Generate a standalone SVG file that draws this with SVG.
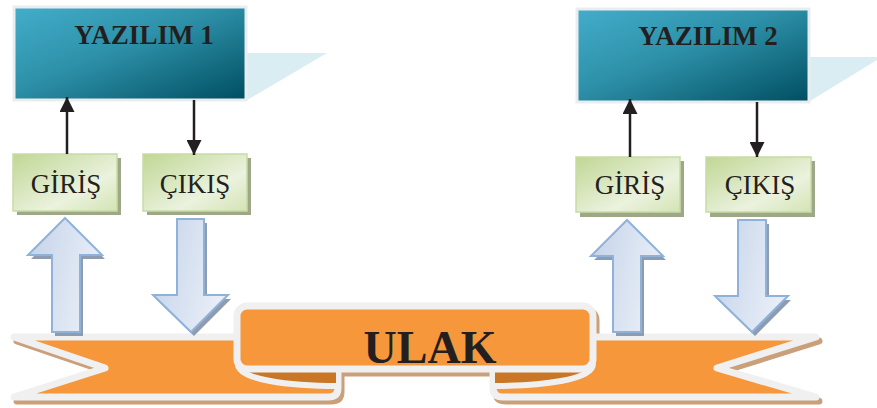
<svg xmlns="http://www.w3.org/2000/svg" width="877" height="408" viewBox="0 0 877 408">
<defs>
<linearGradient id="gBlue" x1="0" y1="0" x2="1" y2="1">
<stop offset="0" stop-color="#43adcb"/>
<stop offset="0.45" stop-color="#2d90a8"/>
<stop offset="1" stop-color="#004e61"/>
</linearGradient>
<linearGradient id="gGreen" x1="0" y1="0" x2="1" y2="1">
<stop offset="0" stop-color="#c0d794"/>
<stop offset="0.65" stop-color="#ebf2de"/>
<stop offset="1" stop-color="#d3e4b4"/>
</linearGradient>
<linearGradient id="gArrow" x1="0" y1="0" x2="1" y2="0.3">
<stop offset="0" stop-color="#c3d2e8"/>
<stop offset="1" stop-color="#e8eef7"/>
</linearGradient>
<marker id="ah" viewBox="0 0 15 15" refX="15" refY="7.5" markerWidth="15" markerHeight="15" markerUnits="userSpaceOnUse" orient="auto">
<path d="M0,0 L15,7.5 L0,15 Z" fill="#231f20"/>
</marker>
<style>
.sw{fill:#d9edf3}
.bb{fill:url(#gBlue);stroke:#e9edef;stroke-width:3}
.gb{fill:url(#gGreen);stroke:#c7dba4;stroke-width:1.5}
.gs{fill:#9ea889}
.ar{fill:url(#gArrow);stroke:#8fb2da;stroke-width:2;stroke-linejoin:miter}
.as{fill:#8e9cb2}
.t1{font-family:"Liberation Serif","Times New Roman",serif;font-weight:bold;font-size:27px;fill:#231f20;text-anchor:middle}
.t2{font-family:"Liberation Serif","Times New Roman",serif;font-size:27px;fill:#231f20;text-anchor:middle}
.t3{font-family:"Liberation Serif","Times New Roman",serif;font-weight:bold;font-size:46px;fill:#231f20;text-anchor:middle}
.rb{fill:#f5973a;stroke:#f0f0f0;stroke-width:7;stroke-linejoin:round}
.rs{fill:#c9a07a;stroke:#c9a07a;stroke-width:7;stroke-linejoin:round}
.fd{fill:#c97626}
.fc{fill:none;stroke:#f0f0f0;stroke-width:6}
.ln{stroke:#231f20;stroke-width:2.5;fill:none}
</style>
</defs>

<g id="yazilim1">
<polygon class="sw" points="245,53 327,53 247,100"/>
<rect class="bb" x="14" y="7" width="232" height="93"/>
<text class="t1" x="144" y="44">YAZILIM 1</text>
</g>
<g id="yazilim2">
<polygon class="sw" points="808,57 877,57 877,60 810,101"/>
<rect class="bb" x="577" y="9" width="232" height="93"/>
<text class="t1" x="708" y="45">YAZILIM 2</text>
</g>

<g id="giris1">
<rect class="gs" x="17" y="158" width="104" height="57"/>
<rect class="gb" x="13" y="154" width="104" height="57"/>
<text class="t2" x="66" y="193">GİRİŞ</text>
</g>
<g id="cikis1">
<rect class="gs" x="147" y="158" width="104" height="57"/>
<rect class="gb" x="143" y="154" width="104" height="57"/>
<text class="t2" x="195" y="193">ÇIKIŞ</text>
</g>
<g id="giris2">
<rect class="gs" x="580" y="161" width="104" height="56"/>
<rect class="gb" x="576" y="157" width="104" height="55"/>
<text class="t2" x="630" y="194">GİRİŞ</text>
</g>
<g id="cikis2">
<rect class="gs" x="710" y="161" width="105" height="56"/>
<rect class="gb" x="706" y="157" width="105" height="55"/>
<text class="t2" x="760" y="194">ÇIKIŞ</text>
</g>

<g id="ulak">
<!-- shadows -->
<path class="rs" transform="translate(3,4)" d="M14,337 L245,337 L245,370 L338,370 L338,388 Q338,397 328,397 L14,397 L105,368 Z"/>
<path class="rs" transform="translate(3,4)" d="M816,337 L585,337 L585,370 L493,370 L493,388 Q493,397 503,397 L816,397 L717,368 Z"/>
<rect class="rs" transform="translate(3,4)" x="237" y="306" width="356" height="63" rx="10"/>
<!-- tails -->
<path class="rb" d="M14,337 L245,337 L245,370 L338,370 L338,388 Q338,397 328,397 L14,397 L105,368 Z"/>
<path class="rb" d="M816,337 L585,337 L585,370 L493,370 L493,388 Q493,397 503,397 L816,397 L717,368 Z"/>
<!-- folds -->
<g id="foldL">
<path class="fd" d="M238,366 H336 V386 C300,386 238,380 238,366 Z"/>
<path class="fc" d="M238,364 C238,380 290,386 338,386"/>
</g>
<g id="foldR" transform="matrix(-1,0,0,1,831,0)">
<path class="fd" d="M238,366 H336 V386 C300,386 238,380 238,366 Z"/>
<path class="fc" d="M238,364 C238,380 290,386 338,386"/>
</g>
<!-- center band -->
<rect class="rb" x="237" y="306" width="356" height="63" rx="10"/>
<text class="t3" x="430" y="363">ULAK</text>
</g>

<g id="bigarrows">
<path class="as" transform="translate(3,4)" d="M65,218 L102,255 L80,255 L80,332 L52,332 L52,255 L28,255 Z"/>
<path class="ar" d="M65,218 L102,255 L80,255 L80,332 L52,332 L52,255 L28,255 Z"/>
<path class="as" transform="translate(3,4)" d="M177,219 L204,219 L204,295 L228,295 L191,332 L153,295 L177,295 Z"/>
<path class="ar" d="M177,219 L204,219 L204,295 L228,295 L191,332 L153,295 L177,295 Z"/>
<path class="as" transform="translate(3,4)" d="M627,220 L663,256 L641,256 L641,332 L613,332 L613,256 L591,256 Z"/>
<path class="ar" d="M627,220 L663,256 L641,256 L641,332 L613,332 L613,256 L591,256 Z"/>
<path class="as" transform="translate(3,4)" d="M738,220 L766,220 L766,296 L788,296 L752,332 L715,296 L738,296 Z"/>
<path class="ar" d="M738,220 L766,220 L766,296 L788,296 L752,332 L715,296 L738,296 Z"/>
</g>

<g id="connectors">
<line class="ln" x1="67" y1="154" x2="67" y2="97" marker-end="url(#ah)"/>
<line class="ln" x1="194" y1="100" x2="194" y2="155" marker-end="url(#ah)"/>
<line class="ln" x1="630" y1="157" x2="630" y2="99" marker-end="url(#ah)"/>
<line class="ln" x1="757" y1="102" x2="757" y2="157" marker-end="url(#ah)"/>
</g>
</svg>
